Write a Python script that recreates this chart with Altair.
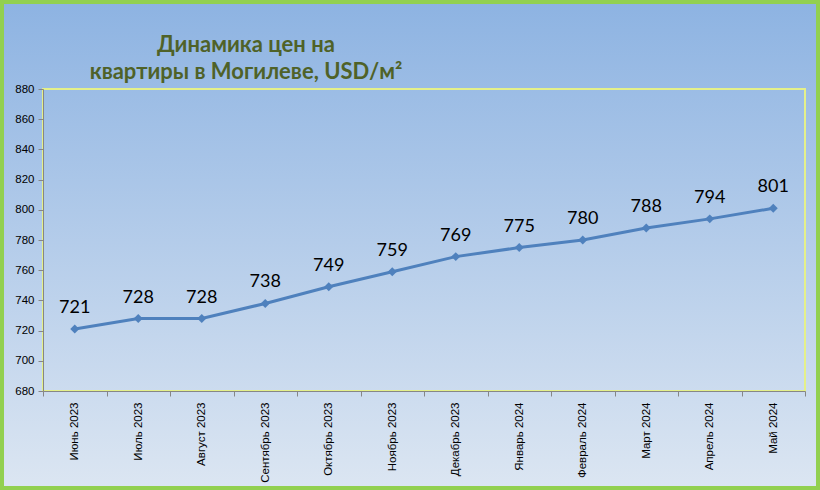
import altair as alt
import pandas as pd

months = ["Июнь 2023", "Июль 2023", "Август 2023", "Сентябрь 2023", "Октябрь 2023",
          "Ноябрь 2023", "Декабрь 2023", "Январь 2024", "Февраль 2024", "Март 2024",
          "Апрель 2024", "Май 2024"]
prices = [721, 728, 728, 738, 749, 759, 769, 775, 780, 788, 794, 801]
title_lines = ["Динамика цен на", "квартиры в Могилеве, USD/м²"]

df = pd.DataFrame({"month": months, "price": prices})

W, H = 762, 302
PL, PT, PR, PB = 43, 89, 15, 99

one = pd.DataFrame({"a": [0]})

bg = alt.Chart(one).mark_rect(
    fill=alt.Gradient(gradient="linear",
                      stops=[alt.GradientStop(color="#8DB3E2", offset=0),
                             alt.GradientStop(color="#DCE6F2", offset=1)],
                      x1=0, x2=0, y1=0, y2=1),
).encode(x=alt.value(-PL), x2=alt.value(W + PR), y=alt.value(-PT), y2=alt.value(H + PB))

frame = alt.Chart(one).mark_rect(
    fill=None, stroke="#92D050", strokeWidth=4,
).encode(x=alt.value(-PL + 2), x2=alt.value(W + PR - 2), y=alt.value(-PT + 2), y2=alt.value(H + PB - 2))

plotbox = alt.Chart(one).mark_rect(
    fill=None, stroke="#E4F08A", strokeWidth=2,
).encode(x=alt.value(0), x2=alt.value(W), y=alt.value(0), y2=alt.value(H))

t1 = alt.Chart(one).mark_text(text=title_lines[0], font="Lato", fontSize=22, fontWeight="bold",
                              color="#4F6228", align="center", baseline="middle").encode(
    x=alt.value(203), y=alt.value(-44))
t2 = alt.Chart(one).mark_text(text=title_lines[1], font="Lato", fontSize=22, fontWeight="bold",
                              color="#4F6228", align="center", baseline="middle").encode(
    x=alt.value(203), y=alt.value(-17))

xenc = alt.X("month:N", sort=months, title=None,
             scale=alt.Scale(paddingInner=0, paddingOuter=0),
             axis=alt.Axis(labelAngle=-90, labelFont="Liberation Sans", labelFontSize=11.5,
                           labelColor="#000000", domainColor="#868686", tickColor="#868686",
                           tickBand="extent", tickSize=5, labelPadding=6, grid=False, zindex=2))
yenc = alt.Y("price:Q", title=None,
             scale=alt.Scale(domain=[680, 880], nice=False, zero=False),
             axis=alt.Axis(values=list(range(680, 881, 20)), labelFont="Liberation Sans",
                           labelFontSize=11.5, labelColor="#000000", domainColor="#868686",
                           tickColor="#868686", tickSize=5, labelPadding=4, grid=False, zindex=2))

base = alt.Chart(df)
line = base.mark_line(color="#4F81BD", strokeWidth=3).encode(x=xenc, y=yenc)
pts = base.mark_point(shape="diamond", filled=True, size=80, color="#4F81BD", opacity=1).encode(x=xenc, y=yenc)
txt = base.mark_text(font="Lato", fontSize=18, color="#000000", baseline="middle", dy=-21).encode(
    x=xenc, y=yenc, text="price:Q")

chart = alt.layer(bg, frame, plotbox, t1, t2, line, pts, txt).properties(
    width=W, height=H,
    autosize=alt.AutoSizeParams(type="none"),
    padding={"left": PL, "top": PT, "right": PR, "bottom": PB},
).configure_view(stroke=None)

chart.save("out.html", embed_options={"renderer": "svg", "actions": False})
